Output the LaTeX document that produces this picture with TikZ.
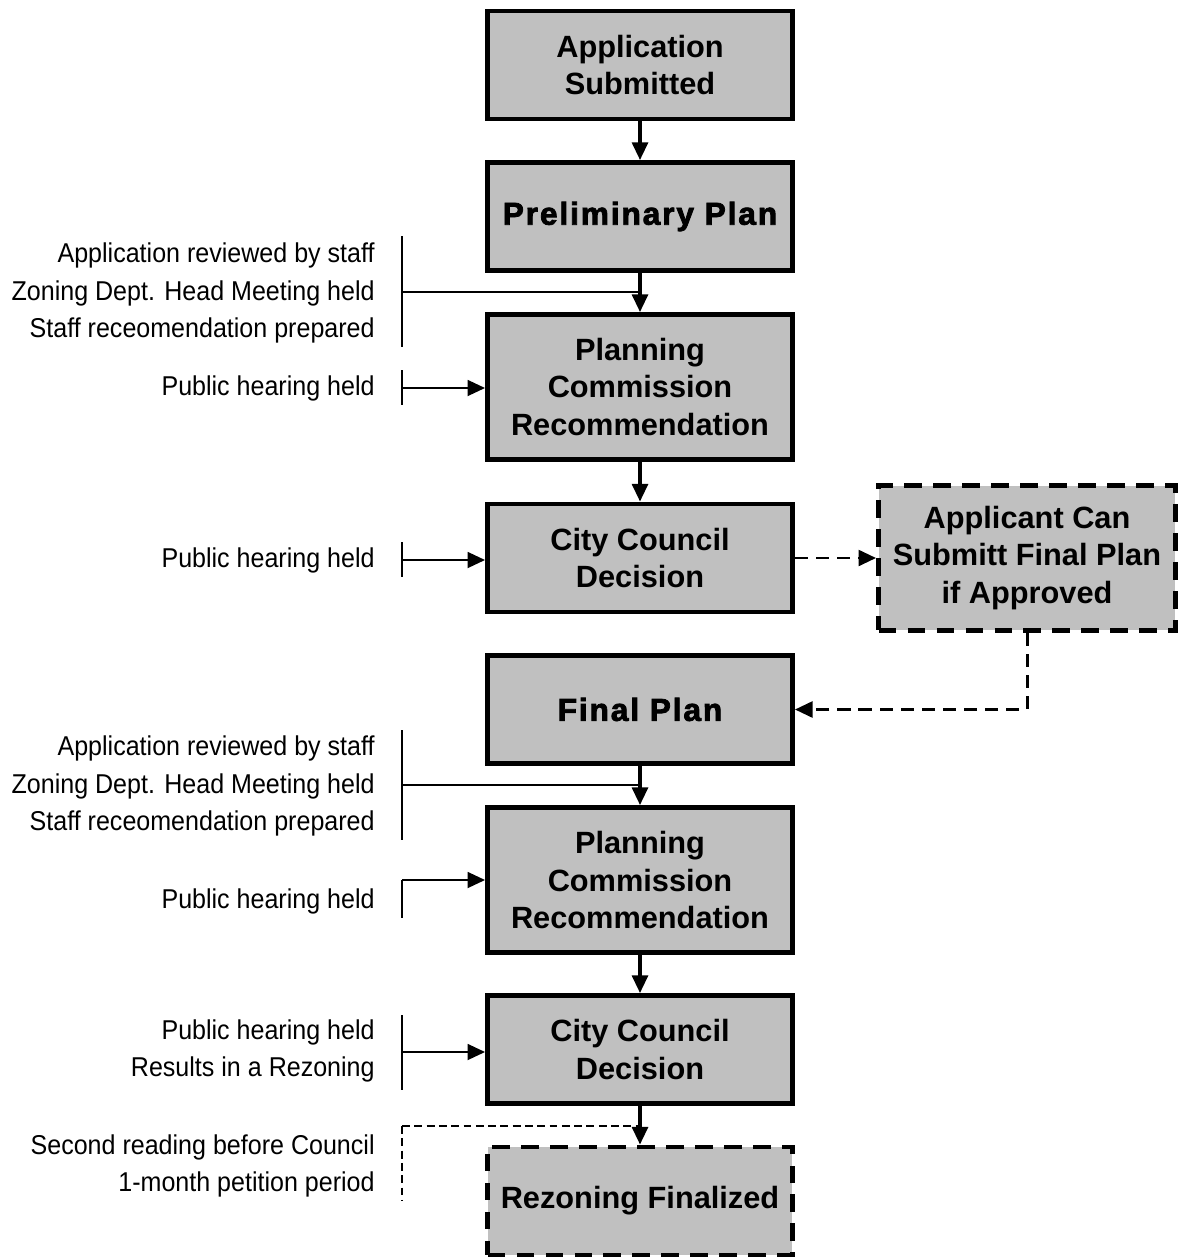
\documentclass[tikz,border=0pt]{standalone}
\usepackage{fontspec}
\setmainfont{Liberation Sans}
\newfontfamily\notefont[FakeStretch=0.92]{Liberation Sans}
\newfontfamily\heavyfont[FakeBold=2.5,LetterSpace=6]{Liberation Sans Bold}
\usepackage{xcolor}
\definecolor{boxgray}{HTML}{C0C0C0}
\usepackage{tikz}
\usetikzlibrary{arrows.meta}

\begin{document}
\begin{tikzpicture}[x=0.02cm, y=-0.02cm, >={Triangle[length=10pt,width=9pt]},
  stagebox/.style={draw, line width=2.8pt, fill=boxgray, minimum width=6.1cm,
        minimum height=2.16cm, align=center, inner sep=2pt,
        font=\fontsize{17.5}{21.5}\selectfont\bfseries},
  tallbox/.style={stagebox, minimum height=2.9cm},
  heavy/.style={font=\fontsize{18}{21.5}\heavyfont},
  maybebox/.style={stagebox, dash pattern=on 10pt off 6.5pt},
  note/.style={anchor=east, align=right, inner sep=0pt,
        font=\fontsize{15.5}{21.5}\notefont},
  flow/.style={->, line width=1.8pt},
  feed/.style={->, line width=1.4pt},
  bracket/.style={line width=1.1pt},
  optflow/.style={->, line width=1.7pt, dash pattern=on 7.5pt off 4.5pt},
  optbracket/.style={line width=0.8pt, dash pattern=on 4.5pt off 2.5pt}]

  \useasboundingbox (0,0) rectangle (1178,1257);

  % main column
  \node[stagebox] (app) at (640,65) {Application\\Submitted};
  \node[stagebox, heavy] (prelim) at (640,216.5) {Preliminary Plan};
  \node[tallbox] (pc1) at (640,387) {Planning\\Commission\\Recommendation};
  \node[stagebox] (cc1) at (640,558) {City Council\\Decision};
  \node[maybebox, minimum width=5.94cm, minimum height=2.9cm] (applicant) at (1027,558)
        {Applicant Can\\Submitt Final Plan\\if Approved};
  \node[stagebox, heavy] (final) at (640,709.5) {Final Plan};
  \node[tallbox] (pc2) at (640,880) {Planning\\Commission\\Recommendation};
  \node[stagebox] (cc2) at (640,1049.5) {City Council\\Decision};
  \node[maybebox] (rezone) at (640,1201) {Rezoning Finalized};

  % side notes
  \node[note] (n1) at (375,293) {Application reviewed by staff\\Zoning Dept. Head Meeting held\\Staff receomendation prepared};
  \node[note] (n2) at (375,388) {Public hearing held};
  \node[note] (n3) at (375,560) {Public hearing held};
  \node[note] (n4) at (375,786) {Application reviewed by staff\\Zoning Dept. Head Meeting held\\Staff receomendation prepared};
  \node[note] (n5) at (375,901) {Public hearing held};
  \node[note] (n6) at (375,1051) {Public hearing held\\Results in a Rezoning};
  \node[note] (n7) at (375,1166) {Second reading before Council\\1-month petition period};

  \coordinate (k1) at (402,292);
  \coordinate (k2) at (402,388);
  \coordinate (k3) at (402,560);
  \coordinate (k4) at (402,785);
  \coordinate (k5) at (402,880);
  \coordinate (k6) at (402,1052);
  \coordinate (k7) at (402,1126);

  % brackets
  \draw[bracket] (402,236) -- (402,347);
  \draw[bracket] (402,370) -- (402,405);
  \draw[bracket] (402,542) -- (402,577);
  \draw[bracket] (402,730) -- (402,840);
  \draw[bracket] (k5) -- (402,918);
  \draw[bracket] (402,1015) -- (402,1090);
  \draw[optbracket] (k7) -- (402,1200);

  % connectors
  \draw[flow] (app) -- (prelim);
  \draw[flow] (prelim) -- (pc1);
  \draw[flow] (pc1) -- (cc1);
  \draw[flow] (final) -- (pc2);
  \draw[flow] (pc2) -- (cc2);
  \draw[flow] (cc2) -- (rezone);
  \draw[bracket] (k1) -- (k1 -| prelim.south);
  \draw[bracket] (k4) -- (k4 -| final.south);
  \draw[optbracket] (k7) -- (k7 -| cc2.south);
  \draw[feed] (k2) -- (k2 -| pc1.west);
  \draw[feed] (k3) -- (k3 -| cc1.west);
  \draw[feed] (k5) -- (k5 -| pc2.west);
  \draw[feed] (k6) -- (k6 -| cc2.west);
  \draw[optflow] (cc1) -- (applicant);
  \draw[optflow] (applicant.south) |- (final.east);
\end{tikzpicture}
\end{document}
